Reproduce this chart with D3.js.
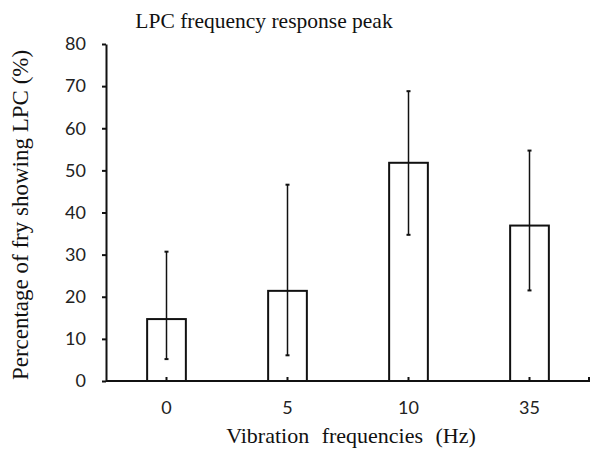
<!DOCTYPE html>
<html>
<head>
<meta charset="utf-8">
<script src="https://cdn.jsdelivr.net/npm/d3@7"></script>
<style>
  body { margin: 0; background: #fff; }
  svg { display: block; }
  .tick-label { font-family: Lato, "Open Sans", sans-serif; font-size: 18px; fill: #222; }
  .serif { font-family: "Liberation Serif", "Times New Roman", serif; fill: #111; }
</style>
</head>
<body>
<div id="chart"></div>
<script>
// frequencies (Hz) and % of fry showing LPC
const categories = ['0', '5', '10', '35']
const values = [14.7, 21.4, 51.8, 36.9]
const errHigh = [30.7, 46.6, 68.8, 54.7]
const errLow = [5.2, 6.1, 34.7, 21.5]
const yTicks = [0, 10, 20, 30, 40, 50, 60, 70, 80]

var width = 590,
    height = 450;

var svg = d3.select('#chart')
  .append('svg')
  .attr('width', width)
  .attr('height', height)

const x = d3.scaleBand()
  .domain(categories)
  .range([106, 590])
  .paddingInner(0.68)
  .paddingOuter(0.34)

const y = d3.scaleLinear()
  .domain([0, 80])
  .range([381, 44])

const data = categories.map((c, i) => ({ cat: c, v: values[i], hi: errHigh[i], lo: errLow[i] }))

// title
svg.append('text')
  .attr('class', 'serif')
  .attr('x', 264)
  .attr('y', 28)
  .attr('text-anchor', 'middle')
  .style('font-size', '21.5px')
  .text('LPC frequency response peak')

// y axis
const yAxis = svg.append('g')
  .attr('transform', 'translate(106,0)')
  .call(d3.axisLeft(y).tickValues(yTicks).tickSize(4).tickSizeOuter(0).tickPadding(16))

yAxis.select('.domain').attr('stroke', '#111').attr('stroke-width', 2)
yAxis.selectAll('.tick line').attr('stroke', '#111').attr('stroke-width', 2)
yAxis.selectAll('.tick text').attr('class', 'tick-label').attr('font-family', null).attr('font-size', null)

// bars
svg.append('g')
  .selectAll('rect')
  .data(data)
  .enter()
  .append('rect')
  .attr('x', d => x(d.cat))
  .attr('width', x.bandwidth())
  .attr('y', d => y(d.v))
  .attr('height', d => y(0) - y(d.v))
  .attr('fill', '#fff')
  .attr('stroke', '#111')
  .attr('stroke-width', 2)

// error bars
const err = svg.append('g')
  .selectAll('g')
  .data(data)
  .enter()
  .append('g')
  .attr('transform', d => 'translate(' + (x(d.cat) + x.bandwidth() / 2) + ',0)')

err.append('line')
  .attr('y1', d => y(d.hi))
  .attr('y2', d => y(d.lo))
  .attr('stroke', '#111')
  .attr('stroke-width', 1.5)

err.selectAll('.cap')
  .data(d => [d.hi, d.lo])
  .enter()
  .append('line')
  .attr('class', 'cap')
  .attr('x1', -2)
  .attr('x2', 2)
  .attr('y1', v => y(v))
  .attr('y2', v => y(v))
  .attr('stroke', '#111')
  .attr('stroke-width', 2)

// x axis
const xAxis = svg.append('g')
  .attr('transform', 'translate(0,' + y(0) + ')')
  .call(d3.axisBottom(x).tickSize(-4).tickSizeOuter(-4).tickPadding(20))

xAxis.select('.domain').attr('stroke', '#111').attr('stroke-width', 2).attr('d', 'M106,0H589V-4')
xAxis.selectAll('.tick line').attr('stroke', '#111').attr('stroke-width', 2)
xAxis.selectAll('.tick text').attr('class', 'tick-label').attr('font-family', null).attr('font-size', null)

// axis titles
svg.append('text')
  .attr('class', 'serif')
  .attr('x', 351)
  .attr('y', 443)
  .attr('text-anchor', 'middle')
  .style('font-size', '22px')
  .style('word-spacing', '7px')
  .text('Vibration frequencies (Hz)')

svg.append('text')
  .attr('class', 'serif')
  .attr('transform', 'translate(28,215) rotate(-90)')
  .attr('text-anchor', 'middle')
  .style('font-size', '23px')
  .text('Percentage of fry showing LPC (%)')
</script>
</body>
</html>
